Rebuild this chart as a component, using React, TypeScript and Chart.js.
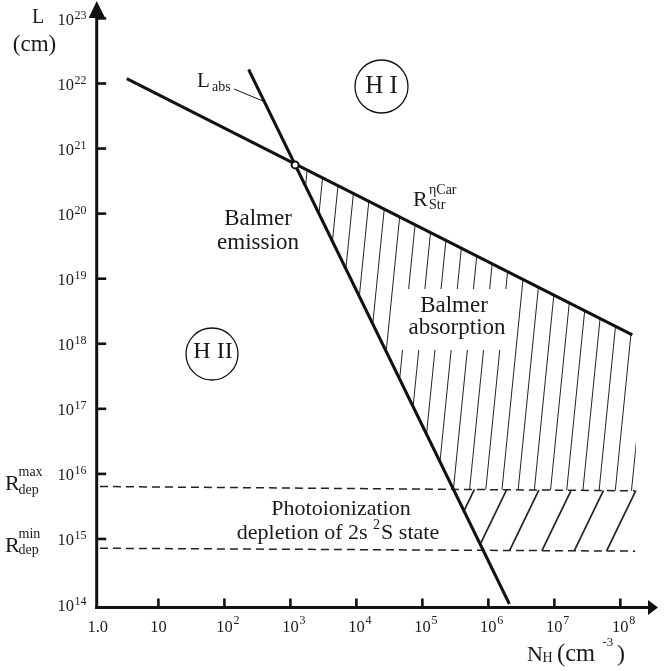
import React, { useEffect, useRef } from "react";
import { Chart, registerables } from "chart.js";

Chart.register(...registerables);

// ---- axis ranges (N_H in cm^-3, L in cm) ----
const xMin = 1.133;
const xMax = 3.72e8;
const yMin = 8.69e13;
const yMax = 1.552e23;

// ---- tick labels ----
const xTickValues = [1, 10, 1e2, 1e3, 1e4, 1e5, 1e6, 1e7, 1e8];
const xTickBase = ["1.0", "10", "10", "10", "10", "10", "10", "10", "10"];
const xTickExp = ["", "", "2", "3", "4", "5", "6", "7", "8"];
const yTickValues = [1e14, 1e15, 1e16, 1e17, 1e18, 1e19, 1e20, 1e21, 1e22, 1e23];
const yTickExp = ["14", "15", "16", "17", "18", "19", "20", "21", "22", "23"];

// ---- lines ----
// Strömgren radius of eta Car  (R_Str^ηCar)
const strN = [3.31, 1.52e8];
const strL = [1.19e22, 1.37e18];
// L_abs
const absN = [233, 2.08e6];
const absL = [1.64e22, 1.0e14];
// intersection marker
const crossN = [1.18e3];
const crossL = [5.6e20];
// R_dep^max and R_dep^min (dashed)
const depMaxN = [1.3, 1.68e8];
const depMaxL = [6.4e15, 5.5e15];
const depMinN = [1.3, 1.68e8];
const depMinL = [7.2e14, 6.5e14];
// right end of hatched regions
const hatchEndN = 1.72e8;
const hatchEndLowN = 1.8e8;

const FONT = '"Liberation Serif", "Times New Roman", serif';
const INK = "#111";

type Pt = { x: number; y: number };

function intersect(a1: Pt, a2: Pt, b1: Pt, b2: Pt): Pt {
  const d = (a2.x - a1.x) * (b2.y - b1.y) - (a2.y - a1.y) * (b2.x - b1.x);
  const t = ((b1.x - a1.x) * (b2.y - b1.y) - (b1.y - a1.y) * (b2.x - b1.x)) / d;
  return { x: a1.x + t * (a2.x - a1.x), y: a1.y + t * (a2.y - a1.y) };
}
function yAt(p1: Pt, p2: Pt, x: number) {
  return p1.y + ((p2.y - p1.y) * (x - p1.x)) / (p2.x - p1.x);
}
function txt(ctx: CanvasRenderingContext2D, s: string, x: number, y: number, size: number, align: CanvasTextAlign = "left") {
  ctx.font = `${size}px ${FONT}`;
  ctx.textAlign = align;
  ctx.textBaseline = "middle";
  ctx.fillText(s, x, y);
  return ctx.measureText(s).width;
}

const decor = {
  id: "decor",
  beforeDatasetsDraw(chart: any) {
    const ctx: CanvasRenderingContext2D = chart.ctx;
    const xs = chart.scales.x;
    const ys = chart.scales.y;
    const P = (n: number, l: number): Pt => ({ x: xs.getPixelForValue(n), y: ys.getPixelForValue(l) });
    const s1 = P(strN[0], strL[0]), s2 = P(strN[1], strL[1]);
    const a1 = P(absN[0], absL[0]), a2 = P(absN[1], absL[1]);
    const m1 = P(depMaxN[0], depMaxL[0]), m2 = P(depMaxN[1], depMaxL[1]);
    const n1 = P(depMinN[0], depMinL[0]), n2 = P(depMinN[1], depMinL[1]);
    const A = intersect(s1, s2, a1, a2);
    const D = intersect(a1, a2, m1, m2);
    const E = intersect(a1, a2, n1, n2);
    const xr = xs.getPixelForValue(hatchEndN);
    const xr2 = xs.getPixelForValue(hatchEndLowN);

    // upper hatching (Balmer absorption)
    ctx.save();
    ctx.beginPath();
    ctx.moveTo(A.x, A.y);
    ctx.lineTo(s2.x, s2.y);
    ctx.lineTo(xr, s2.y);
    ctx.lineTo(xr, yAt(m1, m2, xr));
    ctx.lineTo(D.x, D.y);
    ctx.closePath();
    ctx.clip();
    ctx.strokeStyle = "#222";
    ctx.lineWidth = 1;
    for (let k = -14; k <= 14; k++) {
      const xb = D.x + k * 16.2;
      ctx.beginPath();
      ctx.moveTo(xb - 0.1 * 20, D.y + 20);
      ctx.lineTo(xb + 0.1 * (D.y - A.y + 20), A.y - 20);
      ctx.stroke();
    }
    ctx.restore();

    // gap in hatching behind the label
    ctx.fillStyle = "#fff";
    ctx.fillRect(396, 289, 113, 61);

    // lower hatching (photoionization depletion)
    ctx.save();
    ctx.beginPath();
    ctx.moveTo(D.x, D.y);
    ctx.lineTo(xr2, yAt(m1, m2, xr2));
    ctx.lineTo(xr2, yAt(n1, n2, xr2));
    ctx.lineTo(E.x, E.y);
    ctx.closePath();
    ctx.clip();
    ctx.strokeStyle = "#222";
    ctx.lineWidth = 1.7;
    for (let k = -3; k <= 8; k++) {
      const t = D.x + 21 + k * 32.4;
      ctx.beginPath();
      ctx.moveTo(t + 0.484 * 10, D.y - 10);
      ctx.lineTo(t - 0.484 * (E.y - D.y + 20), E.y + 20);
      ctx.stroke();
    }
    ctx.restore();
  },
  afterDraw(chart: any) {
    const ctx: CanvasRenderingContext2D = chart.ctx;
    const xs = chart.scales.x;
    const ys = chart.scales.y;
    const area = chart.chartArea;
    const L = area.left + 0.7;
    const B = area.bottom - 0.5;
    ctx.save();
    ctx.strokeStyle = INK;
    ctx.fillStyle = INK;
    ctx.lineCap = "butt";

    // axes
    ctx.lineWidth = 3;
    ctx.beginPath();
    ctx.moveTo(L, B + 1.5);
    ctx.lineTo(L, 16);
    ctx.stroke();
    ctx.beginPath();
    ctx.moveTo(L, 1);
    ctx.lineTo(L + 8.5, 18);
    ctx.lineTo(L - 8, 18);
    ctx.closePath();
    ctx.fill();
    ctx.beginPath();
    ctx.moveTo(L - 1.5, B);
    ctx.lineTo(650, B);
    ctx.stroke();
    ctx.beginPath();
    ctx.moveTo(area.right, B);
    ctx.lineTo(648, B - 7.5);
    ctx.lineTo(648, B + 7.5);
    ctx.closePath();
    ctx.fill();

    // ticks
    ctx.lineWidth = 2.6;
    yTickValues.forEach((v, i) => {
      if (i === 0) return;
      const y = ys.getPixelForValue(v);
      ctx.beginPath();
      ctx.moveTo(L, y);
      ctx.lineTo(L + 9.5, y);
      ctx.stroke();
    });
    xTickValues.forEach((v, i) => {
      if (i === 0) return;
      const x = xs.getPixelForValue(v);
      ctx.beginPath();
      ctx.moveTo(x, B);
      ctx.lineTo(x, B - 9);
      ctx.stroke();
    });

    // tick labels
    ctx.fillStyle = "#1a1a1a";
    yTickValues.forEach((v, i) => {
      const y = i === 0 ? B - 1 : ys.getPixelForValue(v) + 2;
      txt(ctx, "10", 74, y, 16.5, "right");
      txt(ctx, yTickExp[i], 74.5, y - 5, 12, "left");
    });
    xTickValues.forEach((v, i) => {
      const x = Math.max(xs.getPixelForValue(v), L + 1);
      txt(ctx, xTickBase[i], x, 627.5, 16.5, "center");
      if (xTickExp[i]) txt(ctx, xTickExp[i], x + 9, 621, 12, "left");
    });

    // axis titles
    txt(ctx, "L", 38, 18, 20, "center");
    txt(ctx, "(cm)", 34.5, 45, 23, "center");
    txt(ctx, "N", 527, 655, 22);
    txt(ctx, "H", 542.5, 658.5, 14);
    txt(ctx, "(cm", 557, 655, 24.5);
    txt(ctx, "-3", 602.5, 643, 13);
    txt(ctx, ")", 617, 655, 24);

    // R_dep labels
    txt(ctx, "R", 5, 484.5, 22);
    txt(ctx, "max", 18.5, 472, 14);
    txt(ctx, "dep", 18.5, 490.3, 14);
    txt(ctx, "R", 5, 546, 22);
    txt(ctx, "min", 18.5, 534.6, 14);
    txt(ctx, "dep", 18.5, 550.6, 14);

    // R_Str label
    txt(ctx, "R", 413, 200, 22);
    txt(ctx, "\u03B7Car", 429, 190, 14);
    txt(ctx, "Str", 429, 205, 14);

    // L_abs label + leader
    txt(ctx, "L", 197, 81, 21);
    txt(ctx, "abs", 212, 87.4, 14);
    ctx.lineWidth = 1;
    ctx.beginPath();
    ctx.moveTo(234, 89);
    ctx.lineTo(264.5, 101.7);
    ctx.stroke();

    // circled region labels
    ctx.lineWidth = 1.3;
    ctx.beginPath();
    ctx.arc(381.5, 86.5, 26.5, 0, Math.PI * 2);
    ctx.stroke();
    txt(ctx, "H I", 381.5, 86.5, 25, "center");
    ctx.beginPath();
    ctx.arc(212, 354, 26, 0, Math.PI * 2);
    ctx.stroke();
    txt(ctx, "H II", 213, 352, 24, "center");

    // region texts
    txt(ctx, "Balmer", 258, 219, 23, "center");
    txt(ctx, "emission", 258, 243, 23, "center");
    txt(ctx, "Balmer", 454, 305.5, 23, "center");
    txt(ctx, "absorption", 457, 328, 23, "center");
    txt(ctx, "Photoionization", 341, 509, 22, "center");
    // second line with superscript
    ctx.font = `22px ${FONT}`;
    const p1 = "depletion of 2s ";
    const p3 = "S state";
    const w1 = ctx.measureText(p1).width;
    const w3 = ctx.measureText(p3).width;
    ctx.font = `14px ${FONT}`;
    const w2 = ctx.measureText("2").width + 1;
    const x0 = 338 - (w1 + w2 + w3) / 2;
    txt(ctx, p1, x0, 533, 22);
    txt(ctx, "2", x0 + w1, 525, 14);
    txt(ctx, p3, x0 + w1 + w2, 533, 22);
    ctx.restore();
  },
};

export default function App() {
  const ref = useRef<HTMLCanvasElement | null>(null);
  useEffect(() => {
    if (!ref.current) return;
    const pts = (ns: number[], ls: number[]) => ns.map((n, i) => ({ x: n, y: ls[i] }));
    const chart = new Chart(ref.current, {
      type: "scatter",
      data: {
        datasets: [
          {
            label: "crossing",
            data: pts(crossN, crossL),
            showLine: false,
            pointRadius: 3.5,
            pointBackgroundColor: "#fff",
            pointBorderColor: INK,
            pointBorderWidth: 2,
          },
          {
            label: "R_Str",
            data: pts(strN, strL),
            showLine: true,
            borderColor: INK,
            borderWidth: 3,
            pointRadius: 0,
          },
          {
            label: "L_abs",
            data: pts(absN, absL),
            showLine: true,
            borderColor: INK,
            borderWidth: 3,
            pointRadius: 0,
          },
          {
            label: "R_dep max",
            data: pts(depMaxN, depMaxL),
            showLine: true,
            borderColor: "#222",
            borderWidth: 1.5,
            borderDash: [8, 5],
            pointRadius: 0,
          },
          {
            label: "R_dep min",
            data: pts(depMinN, depMinL),
            showLine: true,
            borderColor: "#222",
            borderWidth: 1.5,
            borderDash: [8, 5],
            pointRadius: 0,
          },
        ],
      },
      options: {
        responsive: false,
        animation: false,
        devicePixelRatio: 1,
        events: [],
        layout: { padding: { left: 96, right: 1, top: 2, bottom: 63 } },
        plugins: { legend: { display: false }, tooltip: { enabled: false } },
        scales: {
          x: { type: "logarithmic", min: xMin, max: xMax, display: false },
          y: { type: "logarithmic", min: yMin, max: yMax, display: false },
        },
      },
      plugins: [decor],
    } as any);
    return () => chart.destroy();
  }, []);
  return (
    <div style={{ position: "absolute", left: 0, top: 0, width: 664, height: 671, background: "#fff" }}>
      <canvas ref={ref} width={664} height={671} style={{ display: "block" }} />
    </div>
  );
}
